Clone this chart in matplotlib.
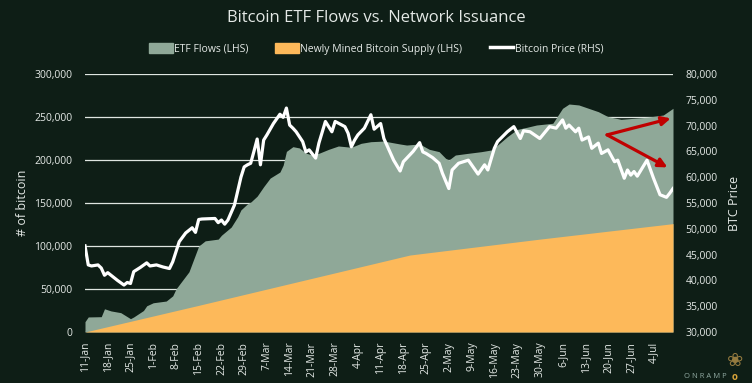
import matplotlib
matplotlib.use("Agg")
import matplotlib.pyplot as plt
import numpy as np
import pandas as pd
from matplotlib.patches import Patch
from matplotlib.lines import Line2D
from matplotlib.ticker import FuncFormatter, MultipleLocator

plt.rcParams['font.family'] = ['Open Sans', 'DejaVu Sans']

# --- data (days counted from 11-Jan-2024) ---
start = pd.Timestamp("2024-01-11")
last_day = 181

# cumulative ETF flows, BTC
etf_day = [0, 1, 5, 6, 8, 11, 14, 15, 18, 19, 21, 25, 27, 28, 30, 32, 33, 35, 37, 41,
           42, 45, 47, 48, 50, 51, 53, 55, 57, 60, 61, 62, 64, 66, 68, 70, 72, 75, 78, 82,
           85, 88, 92, 97, 99, 103, 106, 109, 111, 112, 114, 118, 122, 125, 127, 130, 133, 136, 139, 144,
           145, 147, 149, 152, 155, 158, 161, 165, 169, 173, 178, 181]
etf_btc = [12000, 17500, 17800, 27000, 24500, 22500, 15500, 17500, 25000, 30500, 34000, 36000, 42000, 50000, 60000, 70000, 80000, 100000, 106000, 108000,
           112500, 122000, 134000, 142000, 149000, 151000, 158000, 169000, 179000, 186000, 194000, 210000, 215500, 214000, 208000, 205800, 207800, 212400, 216300, 214800,
           219400, 221300, 222000, 218600, 217400, 218600, 212400, 209700, 202000, 200000, 205800, 207800, 209700, 211600, 217400, 227100, 235500, 238000, 240700, 242700,
           248500, 260100, 265100, 264000, 260100, 256200, 250400, 247300, 248500, 249700, 252300, 260100]

# newly mined bitcoin since 11-Jan
mined_day = [0, 35, 70, 100, 140, 181]
mined_btc = [0, 31000, 62500, 89500, 108000, 126000]

# bitcoin price, thousand USD
price_day = [0, 1, 2, 4, 5, 6, 7, 8, 10, 12, 13, 14, 15, 17, 19, 20, 22, 24, 26, 27,
             29, 31, 33, 34, 35, 36, 40, 41, 42, 43, 44, 46, 48, 49, 50, 51, 52, 53, 54, 55,
             56, 58, 60, 61, 62, 63, 64, 65, 67, 68, 69, 71, 72, 74, 76, 77, 80, 81, 82, 83,
             84, 86, 88, 89, 91, 92, 95, 97, 98, 101, 103, 104, 105, 107, 109, 110, 112, 113, 115, 118,
             119, 121, 123, 124, 126, 127, 130, 132, 134, 135, 137, 140, 143, 145, 147, 148, 149, 151, 152, 153,
             155, 156, 158, 159, 161, 163, 164, 166, 167, 168, 169, 170, 173, 175, 177, 179, 180, 181]
price_k = [46.7, 43.0, 42.8, 43.0, 42.4, 41.0, 41.5, 41.0, 40.0, 39.1, 39.6, 39.4, 41.7, 42.5, 43.4, 42.8, 43.0, 42.6, 42.3, 43.6,
           47.5, 49.2, 50.2, 49.3, 51.8, 51.9, 52.0, 51.2, 51.7, 50.9, 51.7, 54.6, 60.0, 62.0, 62.4, 62.7, 65.0, 67.4, 62.4, 67.2,
           68.2, 70.4, 72.2, 71.6, 73.4, 70.1, 69.5, 68.8, 66.9, 64.9, 65.3, 63.7, 66.6, 70.8, 68.8, 70.8, 69.8, 68.5, 65.9, 67.2,
           68.2, 69.5, 72.1, 69.3, 70.4, 67.5, 63.3, 61.2, 63.0, 65.0, 66.7, 64.9, 64.6, 63.8, 62.7, 60.8, 57.8, 61.4, 62.7, 63.3,
           62.4, 60.6, 62.4, 61.4, 65.6, 66.9, 68.8, 69.8, 67.5, 69.0, 68.8, 67.5, 69.8, 69.5, 71.1, 69.5, 70.1, 68.8, 69.5, 67.2,
           67.8, 65.6, 66.6, 64.6, 65.3, 63.0, 63.3, 59.8, 61.4, 60.4, 61.1, 60.2, 63.3, 59.8, 56.6, 56.1, 56.9, 57.8]

# arrows (day, price) -- divergence callout
arrow_from = (160.7, 68200)
arrow_up_to = (180.3, 71400)
arrow_down_to = (179.3, 61900)

bg = '#0e1e16'
txt = '#e4e9e6'
green = '#8fa898'
orange = '#fdb95a'

fig = plt.figure(figsize=(7.52, 3.83), dpi=100, facecolor=bg)
ax = fig.add_axes([85 / 752, 1 - 332 / 383, 588 / 752, 258 / 383])
ax.set_facecolor(bg)

ax.fill_between(etf_day, etf_btc, 0, color=green, lw=0, zorder=2)
ax.fill_between(mined_day, mined_btc, 0, color=orange, lw=0, zorder=3)

ax.set_xlim(0, last_day)
ax.set_ylim(0, 300000)
ax.yaxis.set_major_locator(MultipleLocator(50000))
ax.yaxis.set_major_formatter(FuncFormatter(lambda v, p: f"{v:,.0f}"))
ax.grid(axis='y', color='#dfe6e1', lw=0.9, zorder=0)
ax.set_axisbelow(True)

tick_days = list(range(0, last_day, 7))
tick_lbls = [f"{(start + pd.Timedelta(days=d)).day}-{(start + pd.Timedelta(days=d)).strftime('%b')}" for d in tick_days]
ax.set_xticks(tick_days)
ax.set_xticklabels(tick_lbls, rotation=90)
ax.tick_params(axis='x', length=0, pad=7, colors=txt, labelsize=7.5)
ax.tick_params(axis='y', length=0, pad=9, colors=txt, labelsize=7.5)

ax2 = ax.twinx()
ax2.plot(price_day, np.array(price_k) * 1000, color='white', lw=2.3, zorder=5,
         solid_joinstyle='round')
ax2.set_ylim(30000, 80000)
ax2.yaxis.set_major_locator(MultipleLocator(5000))
ax2.yaxis.set_major_formatter(FuncFormatter(lambda v, p: f"{v:,.0f}"))
ax2.tick_params(axis='y', length=0, pad=9, colors=txt, labelsize=7.5)

for a in (ax, ax2):
    for s in a.spines.values():
        s.set_visible(False)

for tip in (arrow_up_to, arrow_down_to):
    ax2.annotate("", xy=tip, xytext=arrow_from,
                 arrowprops=dict(arrowstyle='-|>', color='#c00000', lw=2.3,
                                 mutation_scale=13, shrinkA=0, shrinkB=0),
                 zorder=6)

fig.text(0.5, 1 - 18 / 383, "Bitcoin ETF Flows vs. Network Issuance",
         ha='center', va='center', color=txt, fontsize=12, fontweight='medium')
fig.text(22 / 752, 1 - 203 / 383, "# of bitcoin", rotation=90,
         ha='center', va='center', color=txt, fontsize=9)
fig.text(735 / 752, 1 - 203 / 383, "BTC Price", rotation=90,
         ha='center', va='center', color=txt, fontsize=9)

handles = [Patch(color=green), Patch(color=orange), Line2D([], [], color='white', lw=2.5)]
labels = ["ETF Flows (LHS)", "Newly Mined Bitcoin Supply (LHS)", "Bitcoin Price (RHS)"]
leg = fig.legend(handles, labels, loc='center', bbox_to_anchor=(0.5, 1 - 49 / 383),
                 ncol=3, frameon=False, fontsize=7.5, handlelength=2.3, handleheight=1.0,
                 handletextpad=0.1, columnspacing=2.6)
for t in leg.get_texts():
    t.set_color(txt)

# logo
fig.text(705 / 752, 1 - 377 / 383, "O N R A M P", ha='center', va='center',
         color='#8fa8a0', fontsize=5.5)
fig.text(735 / 752, 1 - 377 / 383, "o", ha='center', va='center',
         color='#d9a53a', fontsize=7, fontweight='bold')
fig.text(735 / 752, 1 - 360 / 383, "\u2740", ha='center', va='center',
         color='#b8934a', fontsize=14, alpha=0.8, family=['DejaVu Sans'])

fig.savefig("out.png", dpi=100, facecolor=bg)
